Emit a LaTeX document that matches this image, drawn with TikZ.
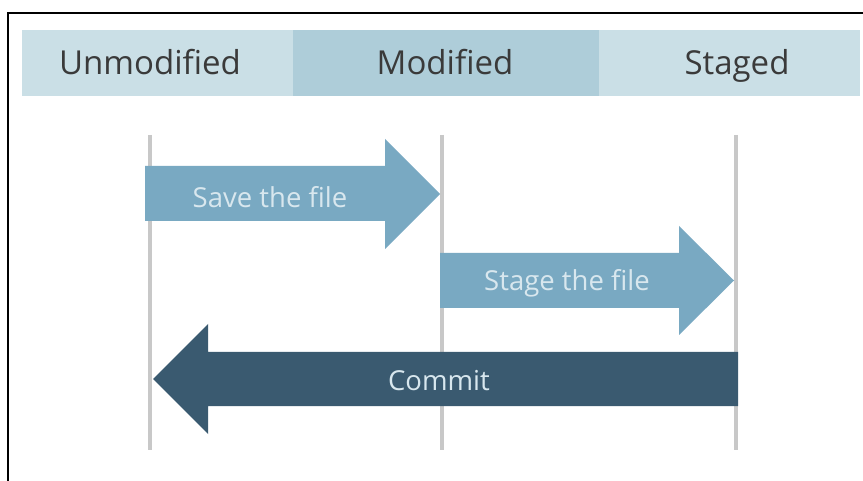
\documentclass[tikz,border=0pt]{standalone}
\usepackage{fontspec}
\setmainfont{Open Sans}
\definecolor{hdrlight}{HTML}{CADFE6}
\definecolor{hdrmid}{HTML}{AECDD9}
\definecolor{arrlight}{HTML}{79A9C2}
\definecolor{arrdark}{HTML}{3A5A70}
\definecolor{vline}{HTML}{C8C8C8}
\definecolor{hdrtext}{HTML}{3A3A3A}
\definecolor{arrtext}{HTML}{D8E7EE}
\tikzset{
  hdrbox/.style={fill=#1, draw=none, inner sep=0pt, anchor=north west, minimum height=66pt},
  hdrlabel/.style={text=hdrtext, font=\fontsize{33}{40}\selectfont, inner sep=0pt, anchor=base},
  statusline/.style={draw=vline, line width=4pt},
  arrlabel/.style={text=arrtext, font=\fontsize{27.5}{33}\selectfont, inner sep=0pt, anchor=base},
}
\begin{document}
\begin{tikzpicture}[x=1pt,y=-1pt]
\useasboundingbox (0,0) rectangle (863,481);
\fill[white] (0,0) rectangle (863,481);
% frame (top and left only visible)
\draw[line width=2pt, black] (7.5,481) -- (7.5,13) -- (863,13);
% header band
\node[hdrbox=hdrlight, minimum width=271pt] (hu) at (22,30) {};
\node[hdrbox=hdrmid, minimum width=306pt] (hm) at (293,30) {};
\node[hdrbox=hdrlight, minimum width=261pt] (hs) at (599,30) {};
\node[hdrlabel] (tu) at (150,75) {Unmodified};
\node[hdrlabel] (tm) at (445,75) {Modified};
\node[hdrlabel] (ts) at (737,75) {Staged};
% vertical status lines
\coordinate (u1) at (150,135); \coordinate (u2) at (150,450);
\coordinate (m1) at (442,135); \coordinate (m2) at (442,450);
\coordinate (s1) at (736,135); \coordinate (s2) at (736,450);
\draw[statusline] (u1) -- (u2);
\draw[statusline] (m1) -- (m2);
\draw[statusline] (s1) -- (s2);
% arrow 1: save
\fill[arrlight] (145,166) -- (385,166) -- (385,139) -- (440,194) -- (385,249) -- (385,221) -- (145,221) -- cycle;
\node[arrlabel] (save) at (270,208) {Save the file};
% arrow 2: stage
\fill[arrlight] (440,253) -- (679,253) -- (679,226) -- (734,280.5) -- (679,335) -- (679,308) -- (440,308) -- cycle;
\node[arrlabel] (stage) at (567,291) {Stage the file};
% arrow 3: commit
\fill[arrdark] (738,352) -- (208,352) -- (208,324) -- (153,379) -- (208,434) -- (208,406) -- (738,406) -- cycle;
\node[arrlabel] (commit) at (439,391) {Commit};
\end{tikzpicture}
\end{document}
